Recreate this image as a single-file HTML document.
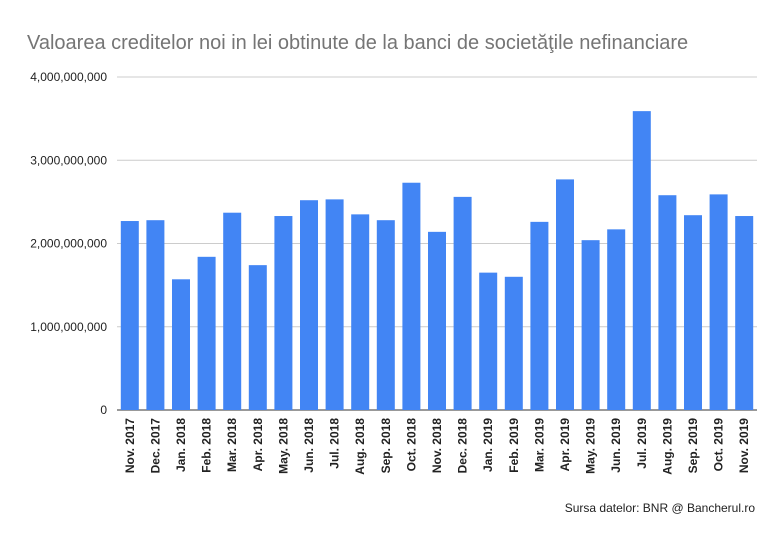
<!DOCTYPE html>
<html><head><meta charset="utf-8"><style>
body{margin:0;background:#fff;}
svg{display:block;font-family:"Liberation Sans",sans-serif;}
</style></head><body>
<svg id="chart" width="783" height="542">
<rect width="783" height="542" fill="#fff"/>
<text x="27" y="49" font-size="20" fill="#757575">Valoarea creditelor noi in lei obtinute de la banci de societăţile nefinanciare</text>
<g id="grid"></g><g id="bars"></g><g id="xlabels"></g>
<text x="755" y="512" font-size="12" text-anchor="end" fill="#222">Sursa datelor: BNR @ Bancherul.ro</text>
</svg>
<script>
const categories=["Nov. 2017","Dec. 2017","Jan. 2018","Feb. 2018","Mar. 2018","Apr. 2018","May. 2018","Jun. 2018","Jul. 2018","Aug. 2018","Sep. 2018","Oct. 2018","Nov. 2018","Dec. 2018","Jan. 2019","Feb. 2019","Mar. 2019","Apr. 2019","May. 2019","Jun. 2019","Jul. 2019","Aug. 2019","Sep. 2019","Oct. 2019","Nov. 2019"];
const values=[2.27e9,2.28e9,1.57e9,1.84e9,2.37e9,1.74e9,2.33e9,2.52e9,2.53e9,2.35e9,2.28e9,2.73e9,2.14e9,2.56e9,1.65e9,1.60e9,2.26e9,2.77e9,2.04e9,2.17e9,3.59e9,2.58e9,2.34e9,2.59e9,2.33e9];
const ticks=[0,1e9,2e9,3e9,4e9];
const tickLabels=["0","1,000,000,000","2,000,000,000","3,000,000,000","4,000,000,000"];
const NS="http://www.w3.org/2000/svg";
const x0=117,x1=757,yBase=410,yTop=77,maxV=4e9;
const y=v=>yBase-(v/maxV)*(yBase-yTop);
const step=(x1-x0)/categories.length;
const xc=i=>x0+step*(i+0.5);
const grid=document.getElementById('grid'),bars=document.getElementById('bars'),xl=document.getElementById('xlabels');
ticks.forEach((t,i)=>{
 const l=document.createElementNS(NS,'line');
 l.setAttribute('x1',x0);l.setAttribute('x2',x1);l.setAttribute('y1',y(t));l.setAttribute('y2',y(t));
 l.setAttribute('stroke',i===0?'#333':'#ccc');l.setAttribute('stroke-width','1');
 
 
 grid.appendChild(l);
 const tx=document.createElementNS(NS,'text');
 tx.setAttribute('x',107);tx.setAttribute('y',y(t)+4);tx.setAttribute('text-anchor','end');tx.setAttribute('font-size','12');tx.setAttribute('fill','#222');
 tx.textContent=tickLabels[i];
 
 
 grid.appendChild(tx);
});
values.forEach((v,i)=>{
 const r=document.createElementNS(NS,'rect');
 const w=18;
 r.setAttribute('x',xc(i)-w/2);r.setAttribute('y',y(v));r.setAttribute('width',w);r.setAttribute('height',yBase-y(v));
 r.setAttribute('fill','#4285f4');
 
 
 bars.appendChild(r);
 const t=document.createElementNS(NS,'text');
 t.setAttribute('transform',`translate(${xc(i)+4},418) rotate(-90)`);
 t.setAttribute('text-anchor','end');t.setAttribute('font-size','12');t.setAttribute('font-weight','bold');t.setAttribute('fill','#222');
 t.textContent=categories[i];
 
 
 xl.appendChild(t);
});
</script>
</body></html>
